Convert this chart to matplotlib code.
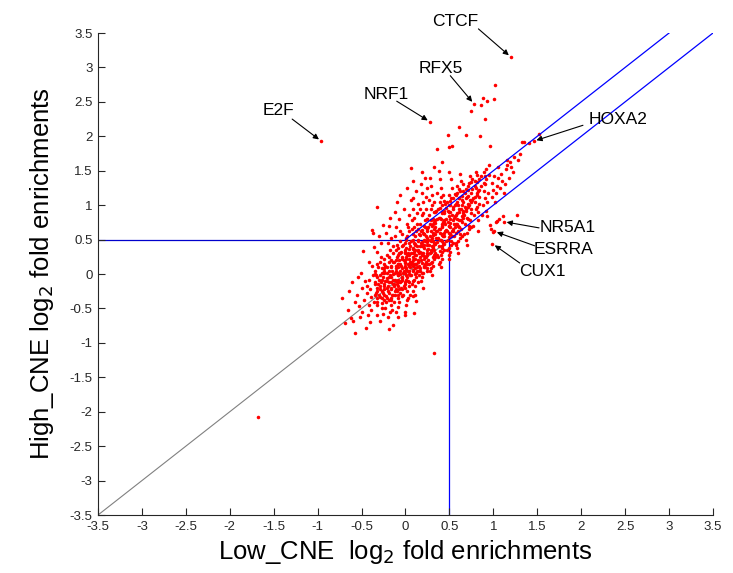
import matplotlib
matplotlib.use("Agg")
from matplotlib import pyplot as plt

plt.rcParams['font.family'] = ['Liberation Sans', 'DejaVu Sans']

# log2 fold enrichments per motif: (Low_CNE, High_CNE)
cloud = [
    (-0.72, -0.35), (-0.69, -0.71), (-0.66, -0.52),
    (-0.64, -0.25), (-0.62, -0.64), (-0.60, -0.68), (-0.57, -0.86), (-0.58, -0.41), (-0.61, -0.12), (-0.55, -0.30),
    (-0.52, -0.62), (-0.48, 0.33), (-0.53, -0.47), (-0.50, -0.20), (-0.47, -0.38), (-0.45, -0.78), (-0.51, 0.02),
    (-0.46, -0.10), (-0.49, -0.55), (-0.44, -0.28), (-0.54, -0.05),
    (-0.36, 0.39), (-0.38, 0.64), (-0.37, 0.59), (-0.33, 0.97), (-0.42, -0.45), (-0.40, -0.22), (-0.39, -0.33),
    (-0.41, -0.08), (-0.35, -0.15), (-0.43, -0.60), (-0.37, -0.02), (-0.36, -0.41), (-0.38, 0.12), (-0.34, -0.28),
    (-0.40, -0.70), (-0.42, 0.18), (-0.35, 0.05), (-0.39, -0.52), (-0.44, -0.18), (-0.33, -0.35),
    (-0.26, 0.71), (-0.30, -0.30), (-0.28, -0.12), (-0.32, -0.45), (-0.27, 0.02), (-0.29, -0.22), (-0.25, -0.38),
    (-0.31, 0.10), (-0.26, -0.05), (-0.33, -0.60), (-0.28, 0.25), (-0.24, -0.18), (-0.30, -0.08), (-0.27, -0.50),
    (-0.32, 0.32), (-0.25, 0.15), (-0.29, -0.68), (-0.31, -0.15), (-0.26, -0.27), (-0.28, 0.45), (-0.34, -0.02),
    (-0.23, -0.10), (-0.30, 0.55), (-0.27, -0.35), (-0.25, 0.08), (-0.32, -0.25), (-0.29, 0.18), (-0.26, -0.58),
    (-0.19, -0.80), (-0.18, -0.55), (-0.14, -0.74), (-0.22, -0.40), (-0.20, -0.25), (-0.17, -0.12), (-0.21, 0.02),
    (-0.15, -0.30), (-0.19, -0.05), (-0.23, 0.12), (-0.16, 0.20), (-0.20, -0.18), (-0.18, 0.35), (-0.22, -0.32),
    (-0.14, -0.08), (-0.17, -0.45), (-0.21, 0.28), (-0.15, 0.05), (-0.19, -0.38), (-0.24, -0.22), (-0.16, -0.20),
    (-0.20, 0.45), (-0.18, -0.02), (-0.13, -0.15), (-0.22, 0.60), (-0.17, 0.10), (-0.15, -0.52), (-0.21, -0.10),
    (-0.19, 0.18), (-0.16, -0.35), (-0.24, 0.05), (-0.18, 0.82), (-0.14, 0.30), (-0.20, -0.62), (-0.23, -0.50),
    (-0.17, 0.52), (-0.12, -0.25), (-0.19, 0.70),
    (-0.12, -0.30), (-0.10, -0.15), (-0.08, -0.02), (-0.11, 0.08), (-0.07, -0.22), (-0.09, 0.15), (-0.13, -0.40),
    (-0.06, 0.05), (-0.10, 0.25), (-0.08, -0.35), (-0.12, 0.02), (-0.05, -0.10), (-0.09, -0.48), (-0.11, 0.35),
    (-0.07, 0.20), (-0.13, -0.18), (-0.06, -0.28), (-0.10, 0.42), (-0.08, 0.10), (-0.04, -0.05), (-0.12, 0.55),
    (-0.09, -0.08), (-0.07, 0.30), (-0.11, -0.55), (-0.05, 0.12), (-0.10, -0.25), (-0.06, 0.48), (-0.13, 0.18),
    (-0.08, -0.12), (-0.04, 0.22), (-0.11, 0.68), (-0.07, -0.40), (-0.09, 0.02), (-0.05, -0.20), (-0.12, 0.90),
    (-0.06, 0.62), (-0.10, 1.05), (-0.08, 0.38), (-0.04, -0.32), (-0.12, -0.08), (-0.07, 0.80), (-0.09, -0.62),
    (-0.05, 0.32), (-0.11, 0.12), (-0.06, 1.15),
    (0.00, -0.20), (0.02, -0.05), (-0.02, 0.05), (0.03, 0.15), (-0.01, -0.12), (0.04, 0.00), (0.01, 0.25),
    (-0.03, -0.30), (0.05, 0.10), (0.00, 0.35), (0.02, -0.38), (-0.02, 0.20), (0.04, -0.18), (0.01, 0.08),
    (-0.04, -0.08), (0.03, 0.30), (0.05, -0.02), (0.00, 0.45), (-0.01, 0.12), (0.02, -0.25), (0.04, 0.22),
    (-0.03, 0.02), (0.01, -0.45), (0.05, 0.40), (0.02, 0.55), (-0.02, -0.18), (0.03, -0.10), (0.00, 0.18),
    (0.04, 0.62), (-0.01, 0.30), (0.02, 0.72), (0.05, -0.30), (-0.03, 0.42), (0.01, -0.02), (0.03, 0.05),
    (0.00, -0.55), (0.04, 0.85), (-0.02, 0.95), (0.06, 1.08), (0.02, 0.28), (-0.04, 0.58), (0.05, 0.18),
    (0.01, 0.50), (0.03, -0.35), (0.00, 0.10), (0.06, 1.54), (0.02, 1.25), (-0.01, -0.60), (0.04, 0.36),
    (0.03, 0.68),
    (0.08, 0.05), (0.10, 0.15), (0.12, -0.05), (0.09, 0.25), (0.11, 0.35), (0.13, 0.10), (0.07, -0.15),
    (0.10, 0.45), (0.14, 0.20), (0.08, 0.30), (0.12, 0.02), (0.09, -0.25), (0.11, 0.55), (0.15, 0.30),
    (0.10, -0.08), (0.13, 0.40), (0.07, 0.18), (0.12, 0.62), (0.14, -0.12), (0.08, 0.38), (0.11, 0.08),
    (0.10, -0.56), (0.12, -0.39), (0.09, 0.50), (0.13, 0.72), (0.15, 0.12), (0.07, 0.65), (0.11, 0.22),
    (0.14, 0.48), (0.08, -0.32), (0.10, 0.82), (0.12, 0.28), (0.09, 0.95), (0.15, 0.58), (0.11, -0.18),
    (0.13, 0.05), (0.08, 1.10), (0.14, 0.35), (0.10, 0.68), (0.12, 1.20), (0.09, 0.12), (0.15, -0.02),
    (0.11, 0.42), (0.13, 0.88), (0.07, 0.78), (0.10, 0.32), (0.14, 1.02), (0.12, 0.15), (0.09, 1.35),
    (0.11, -0.30),
    (0.18, 0.20), (0.20, 0.30), (0.22, 0.10), (0.19, 0.40), (0.21, 0.50), (0.23, 0.25), (0.17, 0.05),
    (0.20, 0.60), (0.24, 0.35), (0.18, 0.45), (0.22, 0.15), (0.19, -0.05), (0.21, 0.70), (0.25, 0.42),
    (0.20, 0.02), (0.23, 0.55), (0.17, 0.32), (0.22, 0.78), (0.24, 0.08), (0.18, 0.62), (0.21, 0.22),
    (0.20, -0.20), (0.19, 0.85), (0.23, 0.95), (0.25, 0.28), (0.17, 0.72), (0.21, 0.38), (0.24, 0.65),
    (0.18, -0.10), (0.20, 1.05), (0.22, 0.48), (0.19, 1.18), (0.25, 0.80), (0.21, 0.12), (0.23, 0.18),
    (0.18, 1.30), (0.24, 0.52), (0.20, 0.88), (0.22, 1.40), (0.19, 0.28), (0.25, 0.05), (0.21, 0.58),
    (0.23, 1.12), (0.17, 0.95), (0.20, 0.42), (0.24, 1.25), (0.22, 0.68), (0.19, 1.48),
    (0.28, 0.30), (0.30, 0.40), (0.32, 0.22), (0.29, 0.50), (0.31, 0.60), (0.33, 0.35), (0.27, 0.15),
    (0.30, 0.70), (0.34, 0.45), (0.28, 0.55), (0.32, 0.28), (0.29, 0.08), (0.31, 0.80), (0.35, 0.52),
    (0.30, 0.18), (0.33, 0.65), (0.27, 0.42), (0.32, 0.90), (0.34, 0.25), (0.28, 0.72), (0.31, 0.38),
    (0.30, -0.02), (0.29, 0.95), (0.33, 1.05), (0.35, 0.62), (0.27, 0.85), (0.31, 0.48), (0.34, 0.78),
    (0.28, 0.05), (0.30, 1.15), (0.32, 0.58), (0.29, 1.28), (0.35, 0.92), (0.31, 0.12), (0.33, 0.45),
    (0.28, 1.40), (0.34, 0.68), (0.30, 1.00), (0.32, 1.55), (0.29, 0.35), (0.36, 1.18), (0.36, 1.82),
    (0.32, 0.75), (0.27, 1.08), (0.30, 0.52),
    (0.38, 0.40), (0.40, 0.50), (0.42, 0.32), (0.39, 0.60), (0.41, 0.70), (0.43, 0.45), (0.37, 0.25),
    (0.40, 0.80), (0.44, 0.55), (0.38, 0.65), (0.42, 0.38), (0.39, 0.18), (0.41, 0.90), (0.45, 0.62),
    (0.40, 0.28), (0.43, 0.75), (0.37, 0.52), (0.42, 1.00), (0.44, 0.35), (0.38, 0.82), (0.41, 0.48),
    (0.40, 0.10), (0.39, 1.05), (0.43, 1.15), (0.45, 0.72), (0.37, 0.95), (0.41, 0.58), (0.44, 0.88),
    (0.38, 0.15), (0.40, 1.25), (0.42, 0.68), (0.39, 1.38), (0.45, 1.02), (0.41, 0.22), (0.43, 0.55),
    (0.38, 1.50), (0.44, 0.78), (0.40, 1.12), (0.42, 1.62),
    (0.48, 0.50), (0.50, 0.60), (0.52, 0.42), (0.49, 0.70), (0.51, 0.80), (0.53, 0.55), (0.47, 0.35),
    (0.50, 0.90), (0.54, 0.65), (0.48, 0.75), (0.52, 0.48), (0.49, 0.28), (0.51, 1.00), (0.55, 0.72),
    (0.50, 0.38), (0.53, 0.85), (0.47, 0.62), (0.52, 1.10), (0.54, 0.45), (0.48, 0.92), (0.51, 0.58),
    (0.50, 0.22), (0.49, 1.15), (0.53, 1.25), (0.55, 0.82), (0.47, 1.05), (0.51, 0.68), (0.54, 0.98),
    (0.48, 2.02), (0.50, 1.85), (0.53, 1.86), (0.52, 1.38), (0.49, 1.48), (0.55, 0.55), (0.51, 0.32),
    (0.53, 0.62),
    (0.58, 0.60), (0.60, 0.70), (0.62, 0.52), (0.59, 0.80), (0.61, 0.90), (0.63, 0.65), (0.57, 0.45),
    (0.60, 1.00), (0.64, 0.75), (0.58, 0.85), (0.62, 0.58), (0.59, 0.38), (0.61, 1.10), (0.65, 0.82),
    (0.60, 0.48), (0.63, 0.95), (0.57, 0.72), (0.62, 1.20), (0.64, 0.55), (0.58, 1.02), (0.61, 0.68),
    (0.60, 0.30), (0.59, 1.28), (0.63, 1.35), (0.65, 0.92), (0.57, 1.15), (0.61, 2.13), (0.64, 1.08),
    (0.62, 1.45), (0.60, 0.62), (0.58, 0.42), (0.63, 0.78),
    (0.68, 0.72), (0.70, 0.82), (0.72, 0.65), (0.69, 0.92), (0.71, 1.02), (0.73, 0.78), (0.67, 0.58),
    (0.70, 1.12), (0.74, 0.88), (0.68, 0.98), (0.72, 0.70), (0.69, 0.50), (0.71, 1.22), (0.75, 0.95),
    (0.70, 0.60), (0.73, 1.08), (0.67, 0.85), (0.72, 1.32), (0.74, 0.68), (0.69, 2.02), (0.71, 0.80),
    (0.70, 0.42), (0.73, 1.42), (0.74, 2.37), (0.68, 1.18), (0.72, 1.00),
    (0.80, 0.95), (0.82, 0.78), (0.79, 1.05), (0.81, 1.15), (0.83, 0.90), (0.77, 0.70), (0.80, 1.25),
    (0.84, 1.02), (0.78, 0.85), (0.82, 0.62), (0.79, 1.35), (0.81, 0.98), (0.85, 2.00), (0.80, 1.48),
    (0.83, 1.20), (0.77, 1.10), (0.86, 2.45), (0.88, 2.56), (0.84, 1.12),
    (0.88, 1.00), (0.90, 1.10), (0.92, 0.92), (0.89, 1.20), (0.91, 1.30), (0.93, 1.05), (0.87, 0.85),
    (0.90, 2.25), (0.94, 1.18), (0.93, 0.84), (0.96, 0.71), (0.97, 0.65), (0.96, 1.86), (0.93, 2.51),
    (0.91, 1.42),
    (0.98, 1.12), (1.00, 1.22), (1.02, 1.05), (0.99, 1.32), (1.01, 1.42), (1.03, 1.18), (1.01, 2.54),
    (1.02, 2.74), (1.00, 0.61), (1.03, 0.75), (1.04, 0.77), (1.06, 0.80), (1.04, 1.28),
    (1.08, 1.25), (1.10, 1.35), (1.12, 1.18), (1.09, 1.45), (1.11, 0.84), (1.13, 1.30), (1.14, 1.52),
    (1.18, 1.40), (1.20, 1.55), (1.22, 1.48), (1.19, 1.62), (1.24, 1.70), (1.27, 0.86),
    (1.28, 1.65), (1.33, 1.92), (1.35, 1.92), (1.30, 1.75), (1.41, 1.90), (1.52, 2.03),
    (0.32, -1.15), (-1.68, -2.07),
]

# the crowded band along the diagonal: Low_CNE value and its High_CNE values
dense_rows = [
    (-0.35, [-0.30, -0.12, 0.00]), (-0.32, [-0.40, -0.20, -0.05, 0.15]),
    (-0.29, [-0.33, -0.18, -0.02]), (-0.27, [-0.42, -0.25, -0.08, 0.08]),
    (-0.24, [-0.30, -0.14, 0.02, 0.22]), (-0.21, [-0.35, -0.20, -0.06, 0.10]),
    (-0.19, [-0.28, -0.12, 0.05, 0.25]), (-0.16, [-0.38, -0.22, -0.04, 0.12]),
    (-0.14, [-0.30, -0.15, 0.00, 0.18, 0.40]), (-0.11, [-0.22, -0.10, 0.05, 0.20]),
    (-0.09, [-0.30, -0.18, -0.02, 0.14, 0.28]), (-0.06, [-0.12, 0.00, 0.15, 0.30]),
    (-0.04, [-0.22, -0.06, 0.08, 0.25, 0.40]), (-0.01, [-0.15, 0.02, 0.16, 0.32]),
    (0.01, [-0.08, 0.06, 0.22, 0.38, 0.52]), (0.04, [-0.12, 0.04, 0.12, 0.28, 0.45]),
    (0.06, [-0.02, 0.14, 0.30, 0.48]), (0.09, [-0.10, 0.06, 0.20, 0.36, 0.58]),
    (0.11, [0.00, 0.14, 0.28, 0.44]), (0.14, [0.04, 0.18, 0.34, 0.50, 0.66]),
    (0.16, [0.08, 0.24, 0.40, 0.56]), (0.19, [0.02, 0.16, 0.30, 0.46, 0.64]),
    (0.21, [0.10, 0.26, 0.42, 0.58]), (0.24, [0.14, 0.30, 0.46, 0.62, 0.80]),
    (0.26, [0.20, 0.36, 0.50, 0.68]), (0.29, [0.16, 0.32, 0.48, 0.62, 0.78]),
    (0.31, [0.24, 0.40, 0.56, 0.72]), (0.34, [0.30, 0.44, 0.58, 0.74, 0.90]),
    (0.36, [0.28, 0.46, 0.62, 0.80]), (0.39, [0.34, 0.50, 0.66, 0.82, 0.96]),
    (0.41, [0.40, 0.56, 0.72, 0.88]), (0.44, [0.44, 0.60, 0.76, 0.92, 1.06]),
    (0.46, [0.48, 0.64, 0.80, 0.96]), (0.49, [0.54, 0.70, 0.84, 1.00]),
    (0.51, [0.58, 0.74, 0.90, 1.06]), (0.54, [0.62, 0.78, 0.94, 1.10]),
    (0.56, [0.68, 0.84, 1.00, 1.16]), (0.59, [0.72, 0.88, 1.04, 1.18]),
    (0.61, [0.78, 0.94, 1.10, 1.24]), (0.64, [0.84, 1.00, 1.14]),
    (0.66, [0.88, 1.04, 1.20, 1.30]), (0.69, [0.94, 1.10, 1.24]),
    (0.71, [0.98, 1.14, 1.28]), (0.74, [1.04, 1.18, 1.34]),
    (0.76, [1.08, 1.24, 1.38]), (0.79, [1.12, 1.28]),
    (0.81, [1.18, 1.34, 1.44]), (0.84, [1.22, 1.38]),
    (0.86, [1.28, 1.42]), (0.89, [1.32, 1.48]),
    (0.92, [1.38, 1.52]), (0.95, [1.44, 1.58]),
    (1.05, [1.40, 1.55]), (1.15, [1.58, 1.66]),
]

# named motifs
motif_names = ['CTCF', 'RFX5', 'NRF1', 'E2F', 'HOXA2', 'NR5A1', 'ESRRA', 'CUX1']
motif_low = [1.20, 0.78, 0.28, -0.96, 1.46, 1.12, 1.01, 0.99]
motif_high = [3.15, 2.47, 2.21, 1.93, 1.93, 0.76, 0.62, 0.44]

# label text centre and arrow tail for each motif
label_pos = [(0.56, 3.67), (0.40, 2.99), (-0.22, 2.60), (-1.45, 2.37),
             (2.42, 2.24), (1.85, 0.67), (1.80, 0.36), (1.56, 0.03)]
arrow_tail = [(0.83, 3.56), (0.51, 2.88), (-0.10, 2.51), (-1.29, 2.25),
              (2.02, 2.16), (1.52, 0.67), (1.47, 0.41), (1.30, 0.16)]

ticks = [-3.5, -3, -2.5, -2, -1.5, -1, -0.5, 0, 0.5, 1, 1.5, 2, 2.5, 3, 3.5]
tick_labels = ['-3.5', '-3', '-2.5', '-2', '-1.5', '-1', '-0.5', '0', '0.5',
               '1', '1.5', '2', '2.5', '3', '3.5']

low_cne = [p[0] for p in cloud] + motif_low
high_cne = [p[1] for p in cloud] + motif_high
for x, ys in dense_rows:
    low_cne += [x] * len(ys)
    high_cne += ys

fig = plt.figure(figsize=(7.33, 5.73), dpi=100)
ax = fig.add_axes([0.1337, 0.1012, 0.8390, 0.8412])

# reference lines: identity, 0.5 cut-offs and the +0.5 offset band
ax.plot([-3.5, 0.5], [-3.5, 0.5], color='#808080', lw=0.8, zorder=1)
ax.plot([-3.5, 0.5], [0.5, 0.5], color='#0000cc', lw=0.9, zorder=1)
ax.plot([0.5, 0.5], [-3.5, 0.5], color='#0000ff', lw=0.9, zorder=1)
ax.plot([0.5, 3.5], [0.5, 3.5], color='#0000ff', lw=0.9, zorder=3)
ax.plot([0.0, 3.0], [0.5, 3.5], color='#0000ff', lw=0.9, zorder=3)

ax.scatter(low_cne, high_cne, s=6.5, c='#ff0000', marker='o', linewidths=0, zorder=2)

for i in range(len(motif_names)):
    ax.annotate('', xy=(motif_low[i], motif_high[i]), xytext=arrow_tail[i],
                arrowprops=dict(arrowstyle='-|>', color='black', lw=0.8,
                                mutation_scale=8, shrinkA=0, shrinkB=2),
                annotation_clip=False, zorder=4)
    ax.text(label_pos[i][0], label_pos[i][1], motif_names[i], fontsize=12.5,
            ha='center', va='center', clip_on=False, zorder=4)

ax.set_xlim(-3.5, 3.5)
ax.set_ylim(-3.5, 3.5)
ax.set_xticks(ticks)
ax.set_xticklabels(tick_labels)
ax.set_yticks(ticks)
ax.set_yticklabels(tick_labels)
ax.tick_params(direction='in', length=5, width=0.8, labelsize=9.5,
               colors='#262626', pad=4)
for side in ['top', 'right']:
    ax.spines[side].set_visible(False)
for side in ['left', 'bottom']:
    ax.spines[side].set_color('#262626')
    ax.spines[side].set_linewidth(0.8)

ax.set_xlabel(r'Low_CNE  log$_2$ fold enrichments', fontsize=18.5, labelpad=4)
ax.set_ylabel(r'High_CNE log$_2$ fold enrichments', fontsize=18.5, labelpad=10)

fig.savefig('out.png', dpi=100)
